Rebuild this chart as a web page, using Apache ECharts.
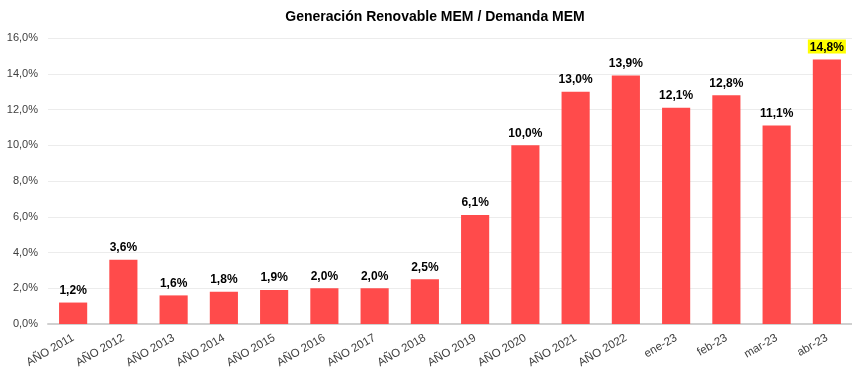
<!DOCTYPE html>
<html><head><meta charset="utf-8">
<script src="https://cdn.jsdelivr.net/npm/echarts@6/dist/echarts.min.js"></script>
<style>html,body{margin:0;padding:0;background:#fff}#c{width:852px;height:392px}</style>
</head><body><div id="c"></div>
<script>
const categories = ["AÑO 2011","AÑO 2012","AÑO 2013","AÑO 2014","AÑO 2015","AÑO 2016","AÑO 2017","AÑO 2018","AÑO 2019","AÑO 2020","AÑO 2021","AÑO 2022","ene-23","feb-23","mar-23","abr-23"];
const values = [1.2,3.6,1.6,1.8,1.9,2.0,2.0,2.5,6.1,10.0,13.0,13.9,12.1,12.8,11.1,14.8];
const titleText = "Generación Renovable MEM / Demanda MEM";
const fmt = v => v.toFixed(1).replace('.', ',') + '%';
const chart = echarts.init(document.getElementById('c'));
chart.setOption({
  animation:false,
  title:{text:titleText,left:430,textAlign:'center',top:5,textStyle:{fontFamily:'Liberation Sans',fontWeight:'bold',fontSize:14,color:'#000'}},
  grid:{left:48,right:0,top:38,bottom:68,containLabel:false},
  xAxis:{type:'category',data:categories,axisTick:{show:false},
    axisLine:{lineStyle:{color:'#d0d0d0',width:2}},
    axisLabel:{rotate:30,interval:0,color:'#404040',fontSize:11.5,fontFamily:'Liberation Sans',margin:13}},
  yAxis:{type:'value',min:0,max:16,interval:2,
    axisLabel:{formatter:v=>fmt(v),color:'#404040',fontSize:11,fontFamily:'Liberation Sans',margin:10},
    splitLine:{lineStyle:{color:'#ececec'}},axisLine:{show:false},axisTick:{show:false}},
  series:[{type:'bar',barCategoryGap:'44%',
    data:values.map((v,i)=>({value:v,label:i===values.length-1?{backgroundColor:'#ffff00',padding:[2,2,0,2]}:{}})),
    itemStyle:{color:'#ff4b4b'},
    label:{show:true,position:'top',distance:6,formatter:p=>fmt(p.value),color:'#000',fontWeight:'bold',fontSize:12,fontFamily:'Liberation Sans'}}]
});
</script></body></html>
